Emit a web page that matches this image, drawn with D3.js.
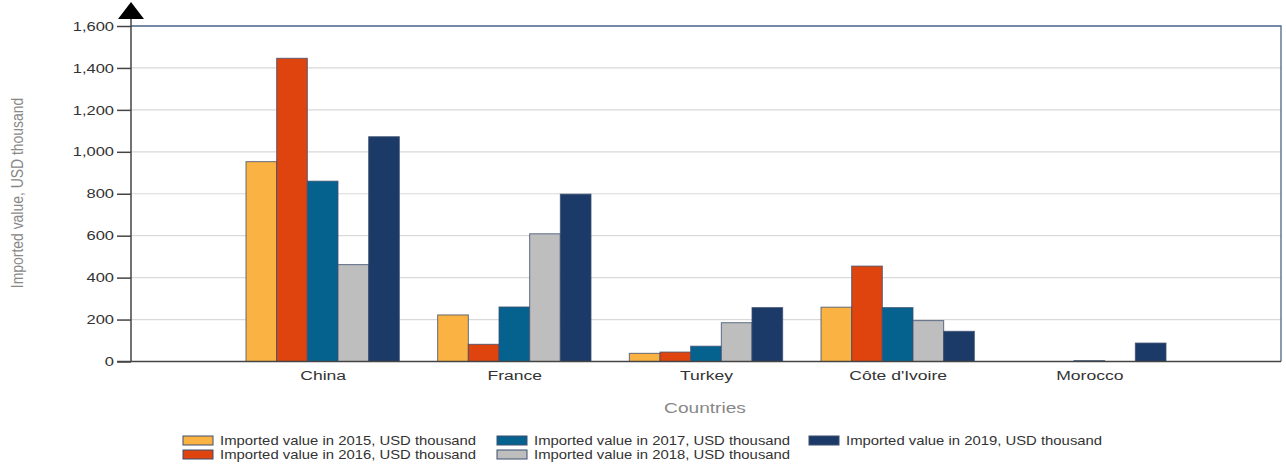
<!DOCTYPE html>
<html><head><meta charset="utf-8">
<script src="https://cdn.jsdelivr.net/npm/d3@7"></script>
<style>body{margin:0;background:#fff}svg{display:block;font-family:"Liberation Sans",Arial,sans-serif}</style>
</head><body><svg id="c" width="1286" height="466"></svg>
<script>
const categories = ["China", "France", "Turkey", "Côte d'Ivoire", "Morocco"];
const years = ["2015", "2016", "2017", "2018", "2019"];
const v2015 = [953, 222, 39, 259, 0];
const v2016 = [1446, 82, 45, 455, 0];
const v2017 = [860, 260, 73, 257, 4];
const v2018 = [462, 609, 185, 195, 0];
const v2019 = [1072, 798, 257, 144, 88];
const yTicks = [0, 200, 400, 600, 800, 1000, 1200, 1400, 1600];
const colors = ["#FAB343", "#E0440E", "#05628F", "#BEBEBE", "#1B3A68"];
const series = [v2015, v2016, v2017, v2018, v2019];
const legendLabels = years.map(y => `Imported value in ${y}, USD thousand`);

const svg = d3.select("#c");
const L = 131, R = 1281, T = 26, B = 361.5;
const x = d3.scalePoint().domain(categories).range([L, R]).padding(1);
const groupW = x.step() * 0.8;
const xi = d3.scaleBand().domain(years).range([-groupW / 2, groupW / 2]);
const y = d3.scaleLinear().domain([0, 1600]).range([B, T]);

// gridlines
svg.append("g").selectAll("line").data(yTicks.filter(t => t > 0 && t < 1600)).join("line")
  .attr("x1", L).attr("x2", R).attr("y1", d => y(d)).attr("y2", d => y(d))
  .attr("stroke", "#d9d9d9").attr("stroke-width", 1.2);

// frame top/right
svg.append("path").attr("d", `M${L},${y(1600)}H${R}V${B}`).attr("fill", "none")
  .attr("stroke", "#4a6488").attr("stroke-width", 1.3);

// bars
const g = svg.append("g");
series.forEach((vals, si) => {
  g.append("g").selectAll("rect").data(vals.map((v, i) => ({v, c: categories[i]})).filter(d => d.v > 0)).join("rect")
    .attr("x", d => x(d.c) + xi(years[si]))
    .attr("width", xi.bandwidth())
    .attr("y", d => y(d.v))
    .attr("height", d => B - y(d.v))
    .attr("fill", colors[si])
    .attr("stroke", "#3d4f70").attr("stroke-width", 1).attr("stroke-opacity", 0.8);
});

// y axis
const ya = d3.axisLeft(y).tickValues(yTicks).tickSize(14).tickPadding(4).tickFormat(d3.format(","));
const yg = svg.append("g").attr("transform", `translate(${L},0)`).call(ya);
yg.select(".domain").remove();
yg.selectAll(".tick line").attr("stroke", "#444").attr("stroke-width", 1.5);
yg.selectAll(".tick text").attr("font-size", 13).attr("fill", "#333")
  .attr("x", 0).attr("transform", "translate(-17,0) scale(1.27,1)");
svg.append("line").attr("x1", L).attr("x2", L).attr("y1", 18).attr("y2", B).attr("stroke", "#444").attr("stroke-width", 1.5);
svg.append("path").attr("d", `M${L - 13},19L${L + 13},19L${L},2Z`).attr("fill", "#000");

// x axis
const xa = d3.axisBottom(x).tickSize(0).tickPadding(9);
const xg = svg.append("g").attr("transform", `translate(0,${B})`).call(xa);
xg.select(".domain").remove();
xg.selectAll(".tick text").attr("font-size", 13.5).attr("fill", "#333")
  .attr("transform", "scale(1.3,1)");
svg.append("line").attr("x1", L - 14).attr("x2", R).attr("y1", B).attr("y2", B).attr("stroke", "#444").attr("stroke-width", 1.5);

// axis titles
svg.append("text").attr("transform", "translate(705,413) scale(1.32,1)").attr("text-anchor", "middle")
  .attr("font-size", 14.5).attr("fill", "#888").text("Countries");
svg.append("text").attr("transform", "translate(23,193) rotate(-90) scale(0.96,1.2)").attr("text-anchor", "middle")
  .attr("font-size", 14.5).attr("fill", "#888").text("Imported value, USD thousand");

// legend
const legPos = [[183, 436], [183, 450], [497, 436], [497, 450], [809, 436]];
const lg = svg.append("g");
legendLabels.forEach((lab, i) => {
  const [lx, ly] = legPos[i];
  lg.append("rect").attr("x", lx).attr("y", ly).attr("width", 30).attr("height", 9)
    .attr("fill", colors[i]).attr("stroke", "#3d4f70").attr("stroke-width", 1);
  lg.append("text").attr("transform", `translate(${lx + 37},${ly + 9}) scale(1.24,1)`)
    .attr("font-size", 12).attr("fill", "#333").text(lab);
});
</script></body></html>
